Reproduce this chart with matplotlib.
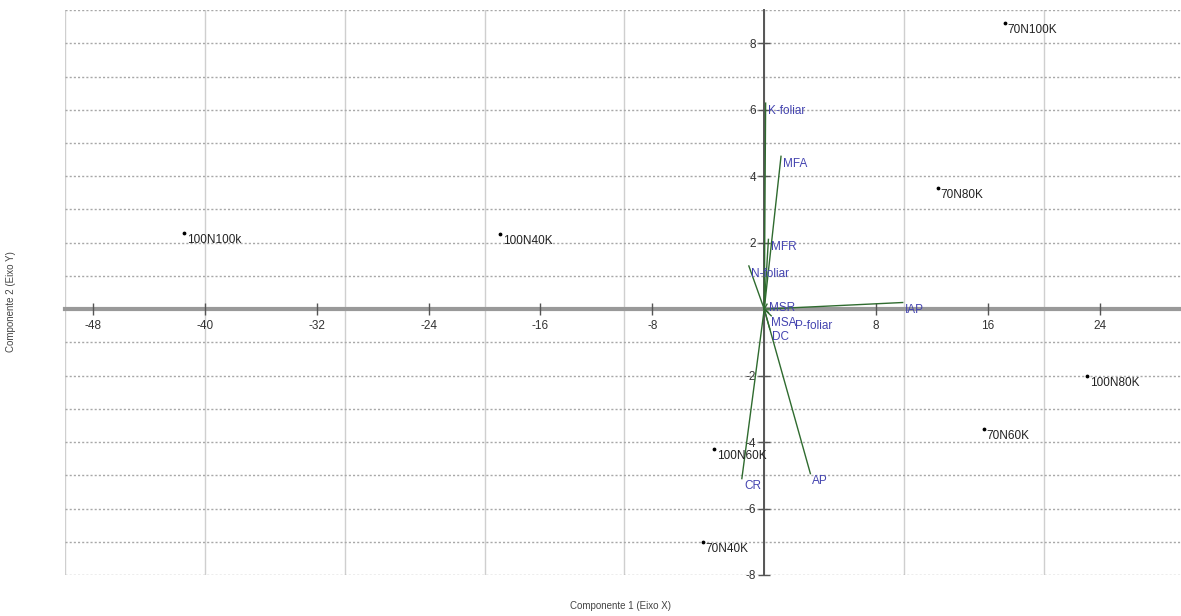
import matplotlib
matplotlib.use("Agg")
import matplotlib.pyplot as plt
import numpy as np

# Sample scores (Componente 1, Componente 2)
sample_names = ["100N100k", "100N40K", "70N100K", "70N80K",
                "100N80K", "70N60K", "100N60K", "70N40K"]
sample_x = [-41.5, -18.9, 17.2, 12.4, 23.1, 15.7, -3.6, -4.4]
sample_y = [2.3, 2.27, 8.6, 3.65, -2.0, -3.6, -4.2, -7.0]

# Variable loadings (biplot vectors)
var_names = ["K-foliar", "MFA", "MFR", "N-foliar", "MSR", "MSA",
             "P-foliar", "DC", "IAP", "CR", "AP"]
var_x = [0.1, 1.2, 0.3, -1.1, 0.2, 0.3, 0.5, 0.4, 9.9, -1.6, 3.3]
var_y = [6.2, 4.6, 2.1, 1.3, 0.15, -0.1, -0.2, -0.6, 0.2, -5.1, -4.95]

x_ticks = [-48, -40, -32, -24, -16, -8, 8, 16, 24]
y_ticks = [-8, -6, -4, -2, 2, 4, 6, 8]

LINE_GREEN = "#2f6b2f"
LABEL_BLUE = "#4444b0"
FONT = "Liberation Sans"

fig = plt.figure(figsize=(11.81, 6.16), dpi=100)
ax = fig.add_axes([0.055, 0.0666, 0.945, 0.917])
ax.set_xlim(-50, 29.8)
ax.set_ylim(-8, 9)

# grid: solid light verticals every 10, dotted horizontals every 1
for gx in np.arange(-50, 31, 10):
    ax.axvline(gx, color="#cfcfcf", lw=1.0, zorder=0)
for gy in np.arange(-8, 10, 1):
    ax.axhline(gy, color="#a8a8a8", lw=1.0, ls=(0, (1.5, 1.5)), zorder=0)

# axes through origin
for s in ["top", "right"]:
    ax.spines[s].set_visible(False)
ax.spines["left"].set_position(("data", 0))
ax.spines["bottom"].set_position(("data", 0))
ax.spines["left"].set_color("#555555")
ax.spines["left"].set_linewidth(1.4)
ax.spines["bottom"].set_color("#999999")
ax.spines["bottom"].set_linewidth(3.0)
ax.spines["left"].set_zorder(1)
ax.spines["bottom"].set_zorder(1)

ax.set_xticks(x_ticks)
ax.set_yticks(y_ticks)
ax.set_xticklabels([str(v) for v in x_ticks])
ax.set_yticklabels([str(v) for v in y_ticks])
ax.tick_params(axis="x", direction="inout", length=8, width=1, color="#555555",
               labelsize=8.5, labelcolor="#333333", pad=4)
ax.tick_params(axis="y", direction="inout", length=8, width=1, color="#555555",
               labelsize=8.5, labelcolor="#333333", pad=2)
for lab in ax.get_xticklabels() + ax.get_yticklabels():
    lab.set_fontfamily(FONT)

# biplot vectors (labels of the crowded ones near the origin nudged a little)
nudge = {"MSR": (1.5, -3.0), "MSA": (1.5, -7.5), "P-foliar": (17.0, -7.5)}
for name, vx, vy in zip(var_names, var_x, var_y):
    ax.plot([0, vx], [0, vy], color=LINE_GREEN, lw=1.0, zorder=2)
    ax.annotate(name, (vx, vy), xytext=nudge.get(name, (1.5, -5.5)),
                textcoords="offset points", ha="left", va="center",
                fontsize=8.5, color=LABEL_BLUE, fontfamily=FONT, zorder=3)

# sample points
ax.scatter(sample_x, sample_y, s=3, color="black", zorder=3)
for name, sx, sy in zip(sample_names, sample_x, sample_y):
    ax.annotate(name, (sx, sy), xytext=(2, -5), textcoords="offset points",
                ha="left", va="center", fontsize=8.5, color="#222222",
                fontfamily=FONT, zorder=3)

fig.text(0.525, 0.017, "Componente 1 (Eixo X)", ha="center", va="center",
         fontsize=7, color="#444444", fontfamily=FONT)
fig.text(0.009, 0.51, "Componente 2 (Eixo Y)", ha="center", va="center",
         rotation=90, fontsize=7, color="#444444", fontfamily=FONT)

fig.savefig("out.png", dpi=100)
